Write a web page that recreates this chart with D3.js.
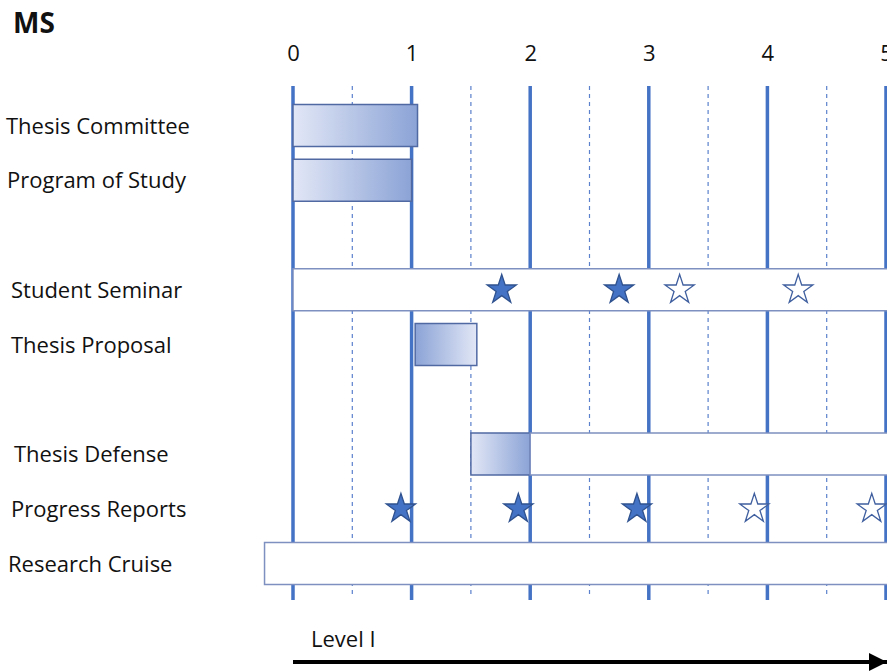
<!DOCTYPE html>
<html>
<head>
<meta charset="utf-8">
<script src="https://cdn.jsdelivr.net/npm/d3@7"></script>
<style>
  body { margin: 0; background: #fff; }
  text { font-family: "Open Sans", "Lato", sans-serif; fill: #111; }
</style>
</head>
<body>
<script>
  var width = 887;
  var height = 672;

  // rows (slot = vertical position, gaps left between groups)
  var tasks = ["Thesis Committee", "Program of Study", "Student Seminar", "Thesis Proposal",
               "Thesis Defense", "Progress Reports", "Research Cruise"];
  var slots = [0, 1, 3, 4, 6, 7, 8];

  var years = [0, 1, 2, 3, 4, 5];
  var halfYears = [0.5, 1.5, 2.5, 3.5, 4.5];

  // bars: task, start, end, fill style
  var barTask  = ["Thesis Committee", "Program of Study", "Student Seminar", "Thesis Proposal",
                  "Thesis Defense", "Thesis Defense", "Research Cruise"];
  var barStart = [0, 0, 0, 1.03, 1.5, 2.0, -0.24];
  var barEnd   = [1.05, 1.0, 5.05, 1.55, 2.0, 5.05, 5.05];
  var barFill  = ["grad", "grad", "white", "gradRev", "grad", "white", "white"];

  // stars: task, position, filled?
  var starTask = ["Student Seminar", "Student Seminar", "Student Seminar", "Student Seminar",
                  "Progress Reports", "Progress Reports", "Progress Reports", "Progress Reports", "Progress Reports"];
  var starPos  = [1.76, 2.75, 3.26, 4.26, 0.91, 1.90, 2.90, 3.89, 4.88];
  var starFull = [true, true, false, false, true, true, true, false, false];

  var svg = d3.select("body")
    .append("svg")
    .attr("width", width)
    .attr("height", height);

  var x = d3.scaleLinear().domain([0, 5]).range([293, 886]);
  var y = d3.scaleLinear().domain([0, 8]).range([125.5, 563.5]);
  var rowY = function(t) { return y(slots[tasks.indexOf(t)]); };
  var barH = 42;

  var defs = svg.append("defs");
  function makeGrad(id, c1, c2) {
    var g = defs.append("linearGradient").attr("id", id)
      .attr("x1", "0%").attr("y1", "0%").attr("x2", "100%").attr("y2", "0%");
    g.append("stop").attr("offset", "0%").attr("stop-color", c1);
    g.append("stop").attr("offset", "100%").attr("stop-color", c2);
  }
  makeGrad("grad", "#e2e7f6", "#8ba3d6");
  makeGrad("gradRev", "#8ba3d6", "#e2e7f6");

  // title
  svg.append("text")
    .attr("x", 13).attr("y", 33)
    .style("font-size", "28px").style("font-weight", "bold")
    .text("MS");

  // top axis labels
  var axis = d3.axisTop(x).tickValues(years).tickFormat(d3.format("d")).tickSize(0).tickPadding(0);
  var ax = svg.append("g").attr("transform", "translate(0,61)").call(axis);
  ax.select(".domain").remove();
  ax.selectAll("text")
    .style("font-family", "'Open Sans', Lato, sans-serif")
    .style("font-size", "22px").attr("fill", "#111").attr("dy", 0);

  // grid
  svg.selectAll("line.half").data(halfYears).enter().append("line")
    .attr("class", "half")
    .attr("x1", x).attr("x2", x).attr("y1", 86).attr("y2", 598)
    .attr("stroke", "#5b80cc").attr("stroke-width", 1.2)
    .attr("stroke-dasharray", "4,4");

  svg.selectAll("line.year").data(years).enter().append("line")
    .attr("class", "year")
    .attr("x1", x).attr("x2", x).attr("y1", 86).attr("y2", 600)
    .attr("stroke", "#4472c4").attr("stroke-width", 3.5);

  // bars
  svg.selectAll("rect.bar").data(barTask).enter().append("rect")
    .attr("class", "bar")
    .attr("x", function(d, i) { return x(barStart[i]); })
    .attr("width", function(d, i) { return x(barEnd[i]) - x(barStart[i]); })
    .attr("y", function(d) { return rowY(d) - barH / 2; })
    .attr("height", barH)
    .attr("fill", function(d, i) { return barFill[i] == "white" ? "#fff" : "url(#" + barFill[i] + ")"; })
    .attr("stroke", function(d, i) { return barFill[i] == "white" ? "#7d90c0" : "#5069a3"; })
    .attr("stroke-width", 1.5);

  // stars
  var star = d3.symbol().type(d3.symbolStar).size(265);
  svg.selectAll("path.star").data(starTask).enter().append("path")
    .attr("class", "star")
    .attr("d", star)
    .attr("transform", function(d, i) { return "translate(" + x(starPos[i]) + "," + rowY(d) + ")"; })
    .attr("fill", function(d, i) { return starFull[i] ? "#4472c4" : "#fff"; })
    .attr("stroke", function(d, i) { return starFull[i] ? "#2f528f" : "#3f5f9f"; })
    .attr("stroke-width", 1.3);

  // row labels
  var labelX = [6, 7, 11, 11, 14, 11, 8];
  svg.selectAll("text.label").data(tasks).enter().append("text")
    .attr("class", "label")
    .attr("x", function(d, i) { return labelX[i]; })
    .attr("y", function(d) { return rowY(d) + 8; })
    .style("font-size", "22px")
    .text(function(d) { return d; });

  // level arrow
  defs.append("marker").attr("id", "arrow")
    .attr("viewBox", "0 0 10 10").attr("refX", 10).attr("refY", 5)
    .attr("markerWidth", 6).attr("markerHeight", 4.5).attr("orient", "auto")
    .attr("markerUnits", "strokeWidth")
    .append("path").attr("d", "M0,0L10,5L0,10z").attr("fill", "#000");

  svg.append("line")
    .attr("x1", x(0)).attr("x2", 887).attr("y1", 662).attr("y2", 662)
    .attr("stroke", "#000").attr("stroke-width", 4)
    .attr("marker-end", "url(#arrow)");

  svg.append("text")
    .attr("x", 311).attr("y", 647)
    .style("font-size", "22px")
    .text("Level I");
</script>
</body>
</html>
